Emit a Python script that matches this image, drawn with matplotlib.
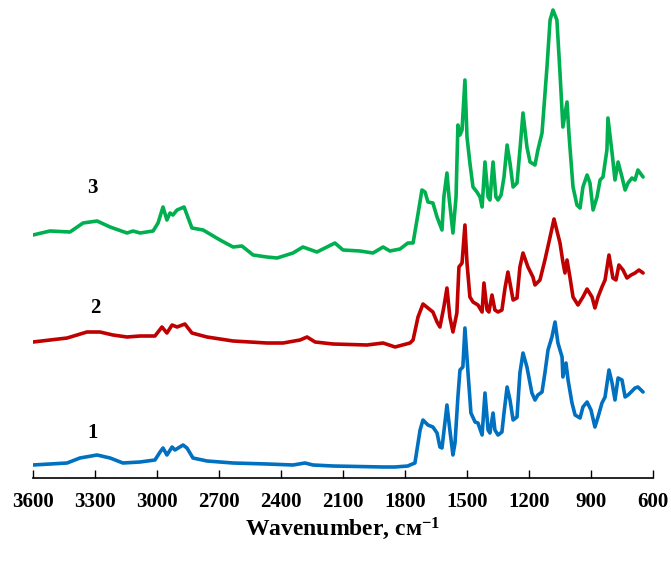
import matplotlib
matplotlib.use("Agg")
import matplotlib.pyplot as plt

# Series 1 (blue)
wn1 = [3600, 3435, 3373, 3290, 3227, 3165, 3082, 3010, 2985, 2971, 2952, 2927, 2913, 2874, 2855, 2826,
       2758, 2632, 2468, 2342, 2284, 2245, 2148, 1906, 1848, 1786, 1776, 1752, 1727, 1713, 1689, 1665,
       1645, 1631, 1621, 1607, 1597, 1583, 1568, 1558, 1544, 1534, 1520, 1510, 1495, 1481, 1461, 1447,
       1427, 1413, 1398, 1389, 1374, 1365, 1350, 1331, 1321, 1306, 1292, 1277, 1258, 1244, 1229, 1210,
       1186, 1171, 1157, 1137, 1123, 1108, 1089, 1074, 1060, 1040, 1036, 1021, 1011, 992, 977, 953,
       939, 919, 900, 881, 866, 847, 832, 813, 798, 784, 769, 750, 735, 721, 706, 687, 673, 648]
ab1 = [.13, .15, .20, .23, .20, .15, .16, .18, .26, .30, .23, .31, .28, .33, .30, .20,
       .17, .15, .14, .13, .15, .13, .12, .11, .11, .12, .13, .15, .48, .58, .53, .51,
       .45, .31, .30, .55, .73, .48, .23, .35, .81, 1.08, 1.11, 1.50, 1.05, .65, .56, .55,
       .43, .85, .48, .45, .65, .48, .43, .46, .65, .91, .78, .58, .61, 1.05, 1.25, 1.11,
       .85, .78, .83, .86, 1.05, 1.28, 1.41, 1.56, 1.35, 1.21, 1.01, 1.15, .98, .75, .63, .60,
       .71, .76, .68, .51, .61, .75, .81, 1.08, .95, .78, 1.00, .98, .81, .83, .86, .90, .91, .86]

# Series 2 (red)
wn2 = [3600, 3435, 3339, 3276, 3213, 3145, 3082, 3010, 2976, 2952, 2927, 2903, 2865, 2831, 2758, 2632,
       2468, 2390, 2308, 2274, 2235, 2148, 1984, 1906, 1848, 1776, 1761, 1737, 1713, 1689, 1665, 1645,
       1631, 1612, 1597, 1583, 1568, 1549, 1539, 1524, 1510, 1500, 1486, 1471, 1447, 1427, 1418, 1403,
       1394, 1379, 1365, 1350, 1331, 1316, 1302, 1292, 1277, 1258, 1244, 1229, 1205, 1181, 1171, 1147,
       1123, 1098, 1079, 1050, 1036, 1026, 1016, 1002, 987, 963, 939, 919, 895, 881, 866, 847,
       832, 813, 794, 779, 765, 745, 726, 706, 687, 668, 648]
ab2 = [1.36, 1.40, 1.46, 1.46, 1.43, 1.41, 1.42, 1.42, 1.51, 1.45, 1.53, 1.51, 1.54, 1.45, 1.41, 1.37,
       1.35, 1.35, 1.38, 1.41, 1.36, 1.34, 1.33, 1.35, 1.31, 1.35, 1.38, 1.61, 1.74, 1.70, 1.66, 1.56,
       1.51, 1.71, 1.90, 1.61, 1.46, 1.65, 2.11, 2.15, 2.53, 2.15, 1.81, 1.76, 1.73, 1.66, 1.95, 1.68,
       1.66, 1.83, 1.68, 1.66, 1.68, 1.90, 2.06, 1.95, 1.78, 1.80, 2.11, 2.25, 2.11, 2.01, 1.93, 1.98,
       2.18, 2.41, 2.59, 2.35, 2.16, 2.05, 2.18, 2.01, 1.81, 1.73, 1.81, 1.89, 1.81, 1.70, 1.81, 1.91,
       1.98, 2.23, 2.00, 1.98, 2.13, 2.08, 2.00, 2.03, 2.05, 2.08, 2.05]

# Series 3 (green)
wn3 = [3600, 3518, 3421, 3358, 3290, 3227, 3145, 3116, 3082, 3019, 2995, 2971, 2952, 2937, 2923, 2903,
       2869, 2831, 2777, 2695, 2632, 2589, 2535, 2468, 2419, 2342, 2294, 2226, 2139, 2100, 2018, 1955,
       1906, 1873, 1824, 1786, 1761, 1742, 1718, 1703, 1689, 1665, 1645, 1621, 1612, 1597, 1587, 1568,
       1553, 1544, 1534, 1524, 1510, 1500, 1486, 1471, 1452, 1437, 1427, 1413, 1398, 1389, 1374, 1360,
       1350, 1335, 1321, 1306, 1292, 1277, 1258, 1244, 1229, 1210, 1195, 1171, 1157, 1137, 1113, 1098,
       1084, 1065, 1050, 1036, 1016, 1007, 1002, 987, 968, 953, 939, 919, 905, 890, 871, 856,
       842, 823, 818, 798, 784, 769, 750, 735, 721, 702, 687, 673, 648]
ab3 = [2.43, 2.47, 2.46, 2.55, 2.57, 2.51, 2.45, 2.47, 2.45, 2.47, 2.55, 2.71, 2.58, 2.65, 2.63, 2.68,
       2.71, 2.50, 2.48, 2.38, 2.31, 2.32, 2.23, 2.21, 2.20, 2.25, 2.31, 2.26, 2.35, 2.28, 2.27, 2.25,
       2.31, 2.27, 2.29, 2.35, 2.35, 2.58, 2.88, 2.86, 2.76, 2.75, 2.61, 2.48, 2.81, 3.05, 2.81, 2.45,
       2.81, 3.53, 3.43, 3.48, 3.98, 3.41, 3.15, 2.91, 2.86, 2.81, 2.71, 3.16, 2.81, 2.78, 3.16, 2.81,
       2.78, 2.83, 3.01, 3.33, 3.15, 2.91, 2.95, 3.28, 3.65, 3.31, 3.16, 3.13, 3.28, 3.45, 4.11, 4.58,
       4.68, 4.58, 4.05, 3.51, 3.76, 3.45, 3.31, 2.91, 2.73, 2.70, 2.91, 3.03, 2.95, 2.68, 2.81, 2.98,
       3.01, 3.28, 3.60, 3.25, 2.98, 3.16, 3.01, 2.88, 2.95, 3.00, 2.98, 3.08, 3.01]

labels = ["1", "2", "3"]
label_wn = [3310, 3300, 3315]
label_ab = [0.45, 1.70, 2.90]
colors = ["#0070C0", "#C00000", "#00B050"]
xticks = [3600, 3300, 3000, 2700, 2400, 2100, 1800, 1500, 1200, 900, 600]

plt.rcParams["font.family"] = ["Liberation Serif", "DejaVu Serif"]
plt.rcParams["mathtext.fontset"] = "custom"
plt.rcParams["mathtext.rm"] = "Liberation Serif"
plt.rcParams["mathtext.bf"] = "Liberation Serif:bold"
plt.rcParams["mathtext.default"] = "regular"

fig = plt.figure(figsize=(6.71, 5.62), dpi=100)
ax = fig.add_axes([33 / 671, 1 - 478 / 562, 620 / 671, 478 / 562])

for wn, ab, c in zip([wn1, wn2, wn3], [ab1, ab2, ab3], colors):
    ax.plot(wn, ab, color=c, lw=2.6, solid_joinstyle="round", solid_capstyle="round")

for t, x, y in zip(labels, label_wn, label_ab):
    ax.text(x, y, t, fontsize=15, fontweight="bold", ha="center", va="center")

ax.set_xlim(3600, 600)
ax.set_ylim(0, 4.78)
ax.set_xticks(xticks)
ax.set_xticklabels([str(v) for v in xticks], fontweight="bold", fontsize=15)
ax.tick_params(axis="x", direction="in", length=6, width=1, pad=10, color="black")
ax.set_yticks([])
for s in ["top", "left", "right"]:
    ax.spines[s].set_visible(False)
ax.spines["bottom"].set_linewidth(1.2)
ax.set_xlabel("Wavenumber, см$^{-1}$", fontsize=17, fontweight="bold", labelpad=3)
ax.patch.set_alpha(0)

fig.savefig("out.png", dpi=100)
